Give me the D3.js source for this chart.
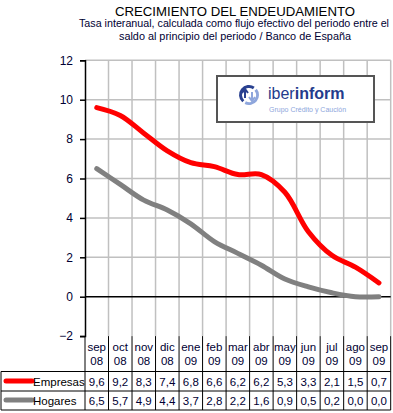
<!DOCTYPE html>
<html><head><meta charset="utf-8">
<script src="https://cdn.jsdelivr.net/npm/d3@7"></script>
<style>body{margin:0;background:#fff}svg{display:block;font-family:Arial,"Liberation Sans",sans-serif}</style>
</head><body><svg id="c" width="393" height="413"></svg>
<script>
const categories = ["sep 08","oct 08","nov 08","dic 08","ene 09","feb 09","mar 09","abr 09","may 09","jun 09","jul 09","ago 09","sep 09"];
const empresas = [9.6,9.2,8.3,7.4,6.8,6.6,6.2,6.2,5.3,3.3,2.1,1.5,0.7];
const hogares = [6.5,5.7,4.9,4.4,3.7,2.8,2.2,1.6,0.9,0.5,0.2,0.0,0.0];
const yTicks = [-2,0,2,4,6,8,10,12];
const seriesNames = ["Empresas","Hogares"];
const seriesColors = ["#ff0000","#808080"];

const svg = d3.select("#c");
const L = 85, R = 390.7, T = 60.3, B = 336.1;
const x = d3.scaleBand().domain(categories).range([L, R]);
const y = d3.scaleLinear().domain([-2, 12]).range([B, T]);
const txt = "#000033";

// titles
svg.append("text").attr("x", 235).attr("y", 15.5).attr("text-anchor", "middle")
  .attr("font-size", 13.5).attr("fill", "#000").attr("textLength", 240).attr("lengthAdjust","spacingAndGlyphs")
  .text("CRECIMIENTO DEL ENDEUDAMIENTO");
svg.append("text").attr("x", 234).attr("y", 27).attr("text-anchor", "middle")
  .attr("font-size", 10.5).attr("fill", "#000033").attr("textLength", 310).attr("lengthAdjust","spacingAndGlyphs")
  .text("Tasa interanual, calculada como flujo efectivo del periodo entre el");
svg.append("text").attr("x", 235).attr("y", 39.5).attr("text-anchor", "middle")
  .attr("font-size", 10.5).attr("fill", "#000033").attr("textLength", 232).attr("lengthAdjust","spacingAndGlyphs")
  .text("saldo al principio del periodo  / Banco de España");

// grid
const g = svg.append("g");
g.selectAll("line.h").data(yTicks.filter(d => d !== 0 && d !== -2)).join("line")
  .attr("x1", L).attr("x2", R).attr("y1", d => y(d)).attr("y2", d => y(d))
  .attr("stroke", "#c0c0c0").attr("stroke-width", 1.5);
g.selectAll("line.v").data(categories.slice(1).concat(["end"])).join("line")
  .attr("x1", (d, i) => L + (i + 1) * x.step()).attr("x2", (d, i) => L + (i + 1) * x.step())
  .attr("y1", T).attr("y2", B).attr("stroke", "#c0c0c0").attr("stroke-width", 1.5);

// y axis
const yAxis = d3.axisLeft(y).tickValues(yTicks).tickSize(5).tickPadding(7).tickFormat(d3.format("d"));
const ya = svg.append("g").attr("transform", `translate(${L},0)`).call(yAxis);
ya.select(".domain").attr("stroke", "#000").attr("stroke-width", 1.5);
ya.selectAll(".tick line").attr("stroke", "#000").attr("stroke-width", 1.5);
ya.selectAll(".tick text").attr("font-size", 12).attr("fill", txt).attr("font-family", "Arial, Liberation Sans, sans-serif");
// zero line
svg.append("line").attr("x1", L).attr("x2", R).attr("y1", y(0)).attr("y2", y(0)).attr("stroke", "#000").attr("stroke-width", 1.5);

// logo
const lg = svg.append("g");
lg.append("rect").attr("x", 217).attr("y", 76).attr("width", 157).attr("height", 46).attr("fill", "#fff")
  .attr("stroke", "#555").attr("stroke-width", 2);
const cx = 249, cy = 95;
lg.append("path").attr("d", d3.arc()({innerRadius: 7, outerRadius: 10, startAngle: -2.4, endAngle: 0.6}))
  .attr("transform", `translate(${cx},${cy})`).attr("fill", "#2a4190");
lg.append("path").attr("d", d3.arc()({innerRadius: 7, outerRadius: 10, startAngle: 0.9, endAngle: 3.6}))
  .attr("transform", `translate(${cx},${cy})`).attr("fill", "#8ea6dc");
lg.append("path").attr("d", `M${cx-4},${cy+3} L${cx-4},${cy-5} M${cx-7},${cy-2} L${cx-4},${cy-6} L${cx-1},${cy-2}`)
  .attr("stroke", "#2a4190").attr("stroke-width", 2).attr("fill", "none");
lg.append("path").attr("d", `M${cx+3},${cy-3} L${cx+3},${cy+5} M${cx},${cy+2} L${cx+3},${cy+6} L${cx+6},${cy+2}`)
  .attr("stroke", "#8ea6dc").attr("stroke-width", 2).attr("fill", "none");
const lt = lg.append("text").attr("x", 268).attr("y", 99).attr("font-size", 16).attr("fill", "#243b8c");
lt.append("tspan").text("iber");
lt.append("tspan").attr("font-weight", "bold").text("inform");
lg.append("text").attr("x", 269).attr("y", 112).attr("font-size", 7).attr("fill", "#8ea6dc").text("Grupo Crédito y Caución");

// lines
const line = d3.line().x((d, i) => x(categories[i]) + x.bandwidth() / 2).y(d => y(d)).curve(d3.curveCatmullRom.alpha(0.5));
[empresas, hogares].forEach((s, k) => {
  svg.append("path").attr("d", line(s)).attr("fill", "none").attr("stroke", seriesColors[k])
    .attr("stroke-width", 5).attr("stroke-linecap", "round").attr("stroke-linejoin", "round");
});

// table
const rows = [371.5, 391, 410];
const tb = svg.append("g");
tb.selectAll("line.tv").data(d3.range(categories.length + 1)).join("line")
  .attr("x1", i => L + i * x.step()).attr("x2", i => L + i * x.step())
  .attr("y1", B).attr("y2", rows[2]).attr("stroke", "#000").attr("stroke-width", 1);
tb.selectAll("line.th").data(rows).join("line")
  .attr("x1", 1).attr("x2", R).attr("y1", d => d).attr("y2", d => d).attr("stroke", "#000").attr("stroke-width", 1);
tb.append("line").attr("x1", 1).attr("x2", 1).attr("y1", rows[0]).attr("y2", rows[2]).attr("stroke", "#000");
// header
categories.forEach(c => {
  const parts = c.split(" ");
  const t = tb.append("text").attr("text-anchor", "middle").attr("font-size", 11.5).attr("fill", txt);
  t.append("tspan").attr("x", x(c) + x.bandwidth() / 2).attr("y", 351).text(parts[0]);
  t.append("tspan").attr("x", x(c) + x.bandwidth() / 2).attr("y", 364.5).text(parts[1]);
});
const fmt = v => d3.format(".1f")(v).replace(".", ",");
[empresas, hogares].forEach((s, k) => {
  const yy = k === 0 ? 385.5 : 404.5;
  tb.selectAll(null).data(s).join("text").attr("text-anchor", "middle").attr("font-size", 11.5).attr("fill", txt)
    .attr("x", (d, i) => x(categories[i]) + x.bandwidth() / 2).attr("y", yy).text(fmt);
  tb.append("line").attr("x1", 6).attr("x2", 32).attr("y1", yy - 4.5).attr("y2", yy - 4.5)
    .attr("stroke", seriesColors[k]).attr("stroke-width", 5).attr("stroke-linecap", "round");
  tb.append("text").attr("x", 33).attr("y", yy).attr("font-size", 11.5).attr("fill", "#000").text(seriesNames[k]);
});
</script></body></html>
